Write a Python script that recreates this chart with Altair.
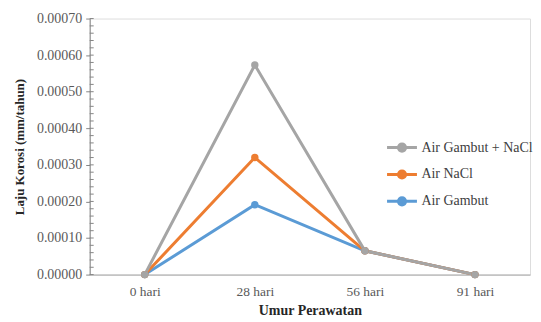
import altair as alt
import pandas as pd

days = ["0 hari", "28 hari", "56 hari", "91 hari"]
air_gambut = [0.0, 0.000191, 0.000065, 0.0]
air_nacl = [0.0, 0.000320, 0.000065, 0.0]
air_gambut_nacl = [0.0, 0.000573, 0.000065, 0.0]

series_names = ["Air Gambut + NaCl", "Air NaCl", "Air Gambut"]
series_colors = ["#A5A5A5", "#ED7D31", "#5B9BD5"]
y_ticks = [0.0, 0.0001, 0.0002, 0.0003, 0.0004, 0.0005, 0.0006, 0.0007]
minor_ticks = [round(i * 0.00002, 6) for i in range(36)]

rows = []
for name, vals in [("Air Gambut", air_gambut), ("Air NaCl", air_nacl),
                   ("Air Gambut + NaCl", air_gambut_nacl)]:
    for d, v in zip(days, vals):
        rows.append({"hari": d, "laju": v, "seri": name})
df = pd.DataFrame(rows)

FONT = "Liberation Serif"

x_axis = alt.Axis(title="Umur Perawatan", labelAngle=0, ticks=False,
                  domainColor="#A6A6A6", domainWidth=1,
                  labelColor="#595959", labelFontSize=13.5, labelFont=FONT,
                  labelPadding=10,
                  titleFont=FONT, titleFontSize=14, titleFontWeight="bold",
                  titleColor="#262626", titlePadding=6)
y_axis = alt.Axis(title="Laju Korosi (mm/tahun)", values=y_ticks, format=".5f",
                  grid=False, domainColor="#868686", tickColor="#868686",
                  tickSize=4, labelColor="#595959", labelFontSize=14,
                  labelFont=FONT, labelPadding=4,
                  titleFont=FONT, titleFontSize=13, titleFontWeight="bold",
                  titleColor="#262626", titlePadding=10)
x_scale = alt.Scale(type="point", padding=0.5)
y_scale = alt.Scale(domain=[0, 0.0007], nice=False, zero=True)

x_enc = alt.X("hari:N", sort=days, scale=x_scale, axis=x_axis)
y_enc = alt.Y("laju:Q", scale=y_scale, axis=y_axis)

legend_symbol = "M-1,0H1M0.24,0A0.24,0.24,0,1,1,-0.24,0A0.24,0.24,0,1,1,0.24,0Z"

color_scale = alt.Scale(domain=series_names, range=series_colors)
color_enc = alt.Color("seri:N", scale=color_scale,
                      legend=alt.Legend(title=None, orient="none", legendX=297, legendY=113,
                                        symbolType=legend_symbol, symbolSize=900,
                                        symbolStrokeWidth=3, symbolFillColor=None,
                                        labelFont=FONT, labelFontSize=14,
                                        labelColor="#404040", rowPadding=-4,
                                        labelOffset=3))

lines = alt.Chart(df).mark_line(strokeWidth=3).encode(
    x=x_enc, y=y_enc, color=color_enc, detail="seri:N")
points = alt.Chart(df).mark_circle(size=55, opacity=1).encode(
    x=x_enc, y=y_enc, color=color_enc)

minor_df = pd.DataFrame({"laju": minor_ticks})
minor = alt.Chart(minor_df).mark_rule(color="#868686", strokeWidth=1).encode(
    y=y_enc, x=alt.value(0), x2=alt.value(4))

chart = alt.layer(lines, points, minor).properties(
    width=442, height=257,
    padding={"left": 5, "top": 3, "right": 0, "bottom": 5}
).configure_view(stroke=None).configure(
    background="white"
)

chart.save("out.html", embed_options={"renderer": "svg", "actions": False})
